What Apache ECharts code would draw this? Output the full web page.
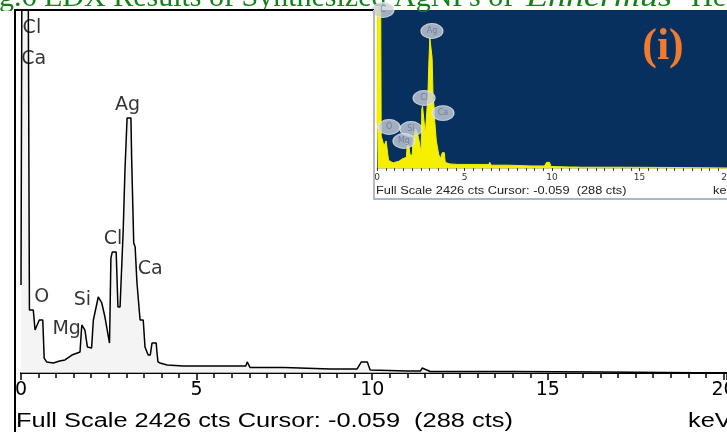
<!DOCTYPE html>
<html>
<head>
<meta charset="UTF-8">
<title></title>
<script src="https://cdn.jsdelivr.net/npm/echarts@6/dist/echarts.min.js"></script>
<style>html,body{margin:0;padding:0;background:#fff;}</style>
</head>
<body>
<div id="main" style="width:727px;height:432px"></div>
<script>
// EDX spectrum, energy in keV, counts (full scale 2426 cts)
var energy = [0, 0.02, 0.03, 0.04, 0.2, 0.24, 0.35, 0.4, 0.52, 0.62, 0.66, 0.73, 0.92, 1.1, 1.25, 1.45,
  1.68, 1.73, 1.77, 1.82, 1.89, 2.01, 2.06, 2.2, 2.3, 2.39, 2.52, 2.56, 2.6, 2.71, 2.76, 2.82,
  2.91, 2.96, 3.02, 3.13, 3.15, 3.19, 3.21, 3.25, 3.3, 3.39, 3.48, 3.53, 3.62, 3.68, 3.73, 3.85,
  3.87, 3.9, 3.96, 4.16, 4.62, 5.5, 6.4, 6.44, 6.52, 7.5, 8.8, 9.57, 9.69, 9.86, 9.94, 11.0,
  11.37, 11.42, 11.65, 14.0, 16.58, 16.6, 20.1];
var counts = [588, 588, 3000, 3000, 3000, 421, 421, 287, 354, 354, 100, 74, 67, 80, 87, 120,
  140, 321, 321, 287, 174, 167, 354, 508, 468, 374, 200, 769, 809, 809, 441, 441,
  956, 1357, 1704, 1704, 1437, 1437, 869, 842, 608, 354, 354, 174, 120, 120, 200, 200,
  140, 74, 67, 53, 47, 47, 47, 74, 37, 37, 27, 27, 74, 74, 20, 13,
  13, 33, 10, 10, 7, 0, 0];

// peak labels of the big plot
var mainLabelNames = ['Cl', 'Ca', 'Ag', 'Cl', 'Ca', 'O', 'Si', 'Mg'];
var mainLabelKeV = [0.31, 0.36, 3.03, 2.62, 3.68, 0.59, 1.75, 1.3];
var mainLabelCts = [2306, 2098, 1791, 896, 695, 508, 488, 294];

// peak labels of the small plot (i)
var insetLabelNames = ['C', 'Ag', 'Cl', 'Ca', 'O', 'Si', 'Mg'];
var insetLabelKeV = [0.34, 3.14, 2.69, 3.77, 0.69, 1.94, 1.54];
var insetLabelCts = [2070, 1795, 917, 720, 537, 511, 354];

var spectrum = energy.map(function(e, i) { return [e, counts[i]]; });
var mainLabels = mainLabelNames.map(function(n, i) {
  return {name: n, value: [mainLabelKeV[i], mainLabelCts[i]]};
});
var insetLabels = insetLabelNames.map(function(n, i) {
  return {name: n, value: [insetLabelKeV[i], insetLabelCts[i]]};
});

var myChart = echarts.init(document.getElementById('main'));

var option = {
  animation: false,
  grid: [
    {left: 21, right: 0, top: 10, height: 363, outerBoundsMode: 'none', containLabel: false},
    {left: 377, right: 0, top: 10, height: 158, outerBoundsMode: 'none', containLabel: false,
      show: true, backgroundColor: '#07305e', borderWidth: 0}
  ],
  xAxis: [{
    gridIndex: 0, type: 'value', min: 0, max: 20.1, interval: 5,
    axisLine: {lineStyle: {color: '#000', width: 2}},
    axisTick: {length: 7, lineStyle: {color: '#000', width: 1.5}},
    minorTick: {show: true, splitNumber: 10, length: 5, lineStyle: {color: '#000', width: 1.5}},
    splitLine: {show: false},
    axisLabel: {color: '#000', fontSize: 19, fontFamily: 'DejaVu Sans', margin: 8, showMaxLabel: false}
  }, {
    gridIndex: 1, type: 'value', min: 0, max: 20, interval: 5,
    axisLine: {lineStyle: {color: '#d8d27a', width: 1}},
    axisTick: {length: 3, lineStyle: {color: '#333', width: 1}},
    minorTick: {show: true, splitNumber: 10, length: 3, lineStyle: {color: '#444', width: 1}},
    splitLine: {show: false},
    axisLabel: {color: '#333', fontSize: 9, fontFamily: 'DejaVu Sans', margin: 5}
  }],
  yAxis: [
    {gridIndex: 0, type: 'value', min: 0, max: 2426, show: false},
    {gridIndex: 1, type: 'value', min: 0, max: 2070, show: false}
  ],
  series: [{
    type: 'line', xAxisIndex: 0, yAxisIndex: 0, data: spectrum,
    symbol: 'none', clip: true,
    lineStyle: {color: '#000', width: 1.5},
    areaStyle: {color: '#efefef'}
  }, {
    type: 'line', xAxisIndex: 1, yAxisIndex: 1, data: spectrum,
    symbol: 'none', clip: true,
    lineStyle: {color: '#f4f000', width: 1},
    areaStyle: {color: '#f4f000', opacity: 1}
  }, {
    type: 'scatter', xAxisIndex: 0, yAxisIndex: 0, data: mainLabels,
    symbolSize: 0, z: 4,
    label: {show: true, position: 'inside', formatter: '{b}', color: '#000',
      fontSize: 19, fontFamily: 'DejaVu Sans'}
  }, {
    type: 'scatter', xAxisIndex: 1, yAxisIndex: 1, data: insetLabels,
    symbol: 'circle', symbolSize: [22, 15], z: 4,
    itemStyle: {color: '#c9d0da', borderColor: '#e4e8ee', borderWidth: 1},
    label: {show: true, position: 'inside', formatter: '{b}', color: '#66768f',
      fontSize: 8, fontFamily: 'DejaVu Sans'}
  }],
  graphic: [
    {type: 'text', z: 0, x: -1, y: -2, style: {
      text: 'g.6 EDX Results of Synthesized AgNPs of', verticalAlign: 'middle',
      fontSize: 30, fontFamily: 'Liberation Serif', fill: '#13801a'}},
    {type: 'text', z: 0, x: 526, y: -2, scaleX: 1.2, style: {
      text: 'Enhermus', verticalAlign: 'middle',
      fontSize: 30, fontStyle: 'italic', fontFamily: 'Liberation Serif', fill: '#13801a'}},
    {type: 'text', z: 0, x: 691, y: -2, style: {
      text: 'He', verticalAlign: 'middle',
      fontSize: 30, fontFamily: 'Liberation Serif', fill: '#13801a'}},
    {type: 'rect', z: 1, shape: {x: 0, y: 11, width: 373, height: 10}, style: {fill: '#fff'}},
    {type: 'line', z: 5, shape: {x1: 14, y1: 10, x2: 374, y2: 10}, style: {stroke: '#000', lineWidth: 2}},
    {type: 'line', z: 5, shape: {x1: 15, y1: 10, x2: 15, y2: 432}, style: {stroke: '#000', lineWidth: 2}},
    {type: 'line', z: 5, shape: {x1: 374, y1: 10, x2: 374, y2: 200}, style: {stroke: '#b8b8b8', lineWidth: 2}},
    {type: 'line', z: 5, shape: {x1: 374, y1: 199, x2: 727, y2: 199}, style: {stroke: '#a8b6cc', lineWidth: 2}},
    {type: 'text', z: 5, x: 16, y: 421, scaleX: 1.27, style: {
      text: 'Full Scale 2426 cts Cursor: -0.059  (288 cts)', verticalAlign: 'middle',
      fontSize: 20, fontFamily: 'Liberation Sans', fill: '#000'}},
    {type: 'text', z: 5, x: 688, y: 421, scaleX: 1.27, style: {
      text: 'keV', verticalAlign: 'middle', fontSize: 20, fontFamily: 'Liberation Sans', fill: '#000'}},
    {type: 'text', z: 5, x: 376, y: 191, scaleX: 1.28, style: {
      text: 'Full Scale 2426 cts Cursor: -0.059  (288 cts)', verticalAlign: 'middle',
      fontSize: 10, fontFamily: 'Liberation Sans', fill: '#222'}},
    {type: 'text', z: 5, x: 713, y: 191, scaleX: 1.28, style: {
      text: 'keV', verticalAlign: 'middle', fontSize: 10, fontFamily: 'Liberation Sans', fill: '#222'}},
    {type: 'text', z: 5, x: 663, y: 48, style: {
      text: '(i)', align: 'center', verticalAlign: 'middle',
      fontSize: 44, fontWeight: 'bold', fontFamily: 'Liberation Serif', fill: '#f07a2e'}}
  ]
};

myChart.setOption(option);
</script>
</body>
</html>
